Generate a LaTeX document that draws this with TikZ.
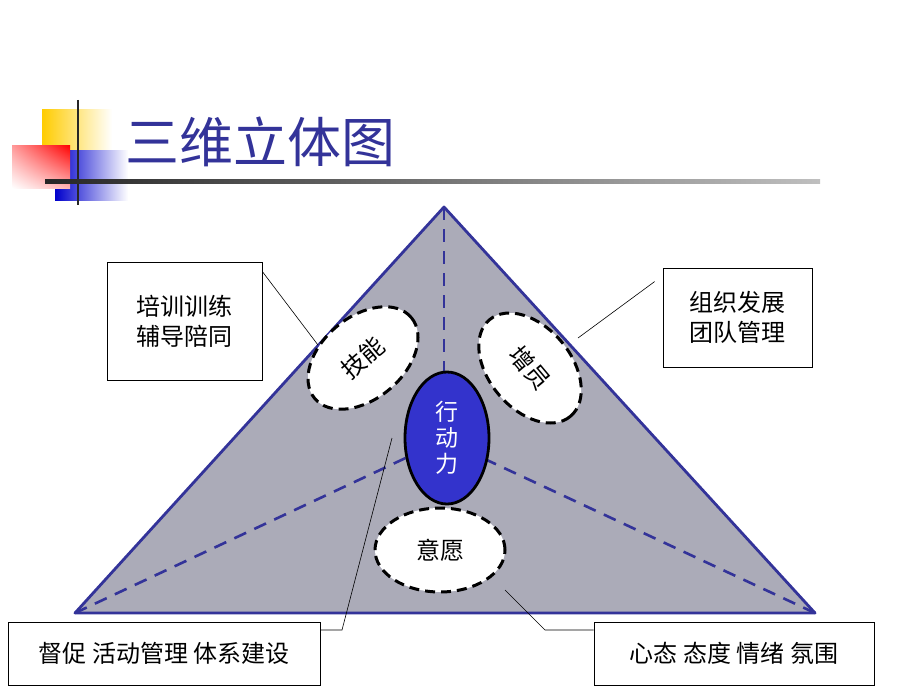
\documentclass[tikz,border=0pt]{standalone}
\usepackage{fontspec}
\setmainfont{Noto Sans CJK SC}
\usetikzlibrary{shapes.geometric,shadings}
\definecolor{tblue}{HTML}{333399}
\definecolor{eblue}{HTML}{3333CC}
\definecolor{tfill}{HTML}{ABABB8}
\definecolor{lyel}{HTML}{FFCC00}
\tikzset{
  wbox/.style={draw=black, fill=white, line width=0.8pt, inner sep=0pt},
  dash ell/.style={ellipse, draw=black, fill=white, line width=3pt, dash pattern=on 10pt off 6pt},
  lbl/.style={font=\fontsize{24}{30}\selectfont, align=center},
  thinline/.style={draw=black, line width=0.6pt},
  bluedash/.style={draw=tblue, line width=2.6pt, dash pattern=on 13pt off 9pt}
}
\begin{document}
\begin{tikzpicture}[x=1pt,y=-1pt]
\useasboundingbox (0,0) rectangle (920,690);
% logo
\shade[left color=lyel, right color=white] (42,110) rectangle (112,172);
\shade[left color=blue!80!black, right color=white] (55,150) rectangle (128,200);
\shade[upper right=red, lower left=white, upper left=red!40, lower right=red!30] (12,145) rectangle (70,188);
\draw[line width=2.5pt, black!85] (78,100) -- (78,205);
\shade[left color=black!85, right color=black!25] (45,179) rectangle (820,183);
\node[anchor=west, text=tblue, font=\fontsize{54}{58}\selectfont] (title) at (122,142) {三维立体图};
% triangle
\coordinate (A) at (444,207);
\coordinate (L) at (75,613);
\coordinate (R) at (815,613);
\coordinate (C) at (444,440);
\fill[tfill] (A) -- (L) -- (R) -- cycle;
\draw[bluedash] (A) -- (C);
\draw[bluedash] (L) -- (C);
\draw[bluedash] (R) -- (C);
\draw[draw=tblue, line width=2.8pt, line join=round] (A) -- (L) -- (R) -- cycle;
% ellipses
\node[dash ell, minimum width=126pt, minimum height=82pt, rotate=40, lbl] (jn) at (363,358) {技能};
\node[dash ell, minimum width=126pt, minimum height=82pt, rotate=-50, lbl] (zy) at (530,368) {增员};
\node[dash ell, minimum width=130pt, minimum height=84pt, lbl] (yy) at (440,550) {意愿};
\node[ellipse, draw=black, fill=eblue, line width=2.8pt, minimum width=84pt, minimum height=132pt, text=white, font=\fontsize{23}{26}\selectfont, align=center] (xd) at (447,438) {行\\动\\力};
% boxes
\node[wbox, minimum width=155pt, minimum height=118pt, lbl] (b1) at (184.5,321) {培训训练\\辅导陪同};
\node[wbox, minimum width=149pt, minimum height=99pt, lbl] (b2) at (737.5,317.5) {组织发展\\团队管理};
\node[wbox, minimum width=312pt, minimum height=63pt, lbl] (b3) at (164,653.5) {督促 活动管理 体系建设};
\node[wbox, minimum width=280pt, minimum height=63pt, lbl] (b4) at (734,653.5) {心态 态度 情绪 氛围};
% leader lines
\coordinate (p1) at (318,345);
\coordinate (p2) at (578,338);
\coordinate (p3) at (392,438);
\coordinate (p3b) at (342,630);
\coordinate (p4) at (505,590);
\coordinate (p4b) at (545,630);
\draw[thinline] (b1.north east) ++(0,10) -- (p1);
\draw[thinline] (b2.north west) ++(-8,14) -- (p2);
\draw[thinline] (p3) -- (p3b) -- (b3.east |- p3b);
\draw[thinline] (p4) -- (p4b) -- (b4.west |- p4b);
\end{tikzpicture}
\end{document}
